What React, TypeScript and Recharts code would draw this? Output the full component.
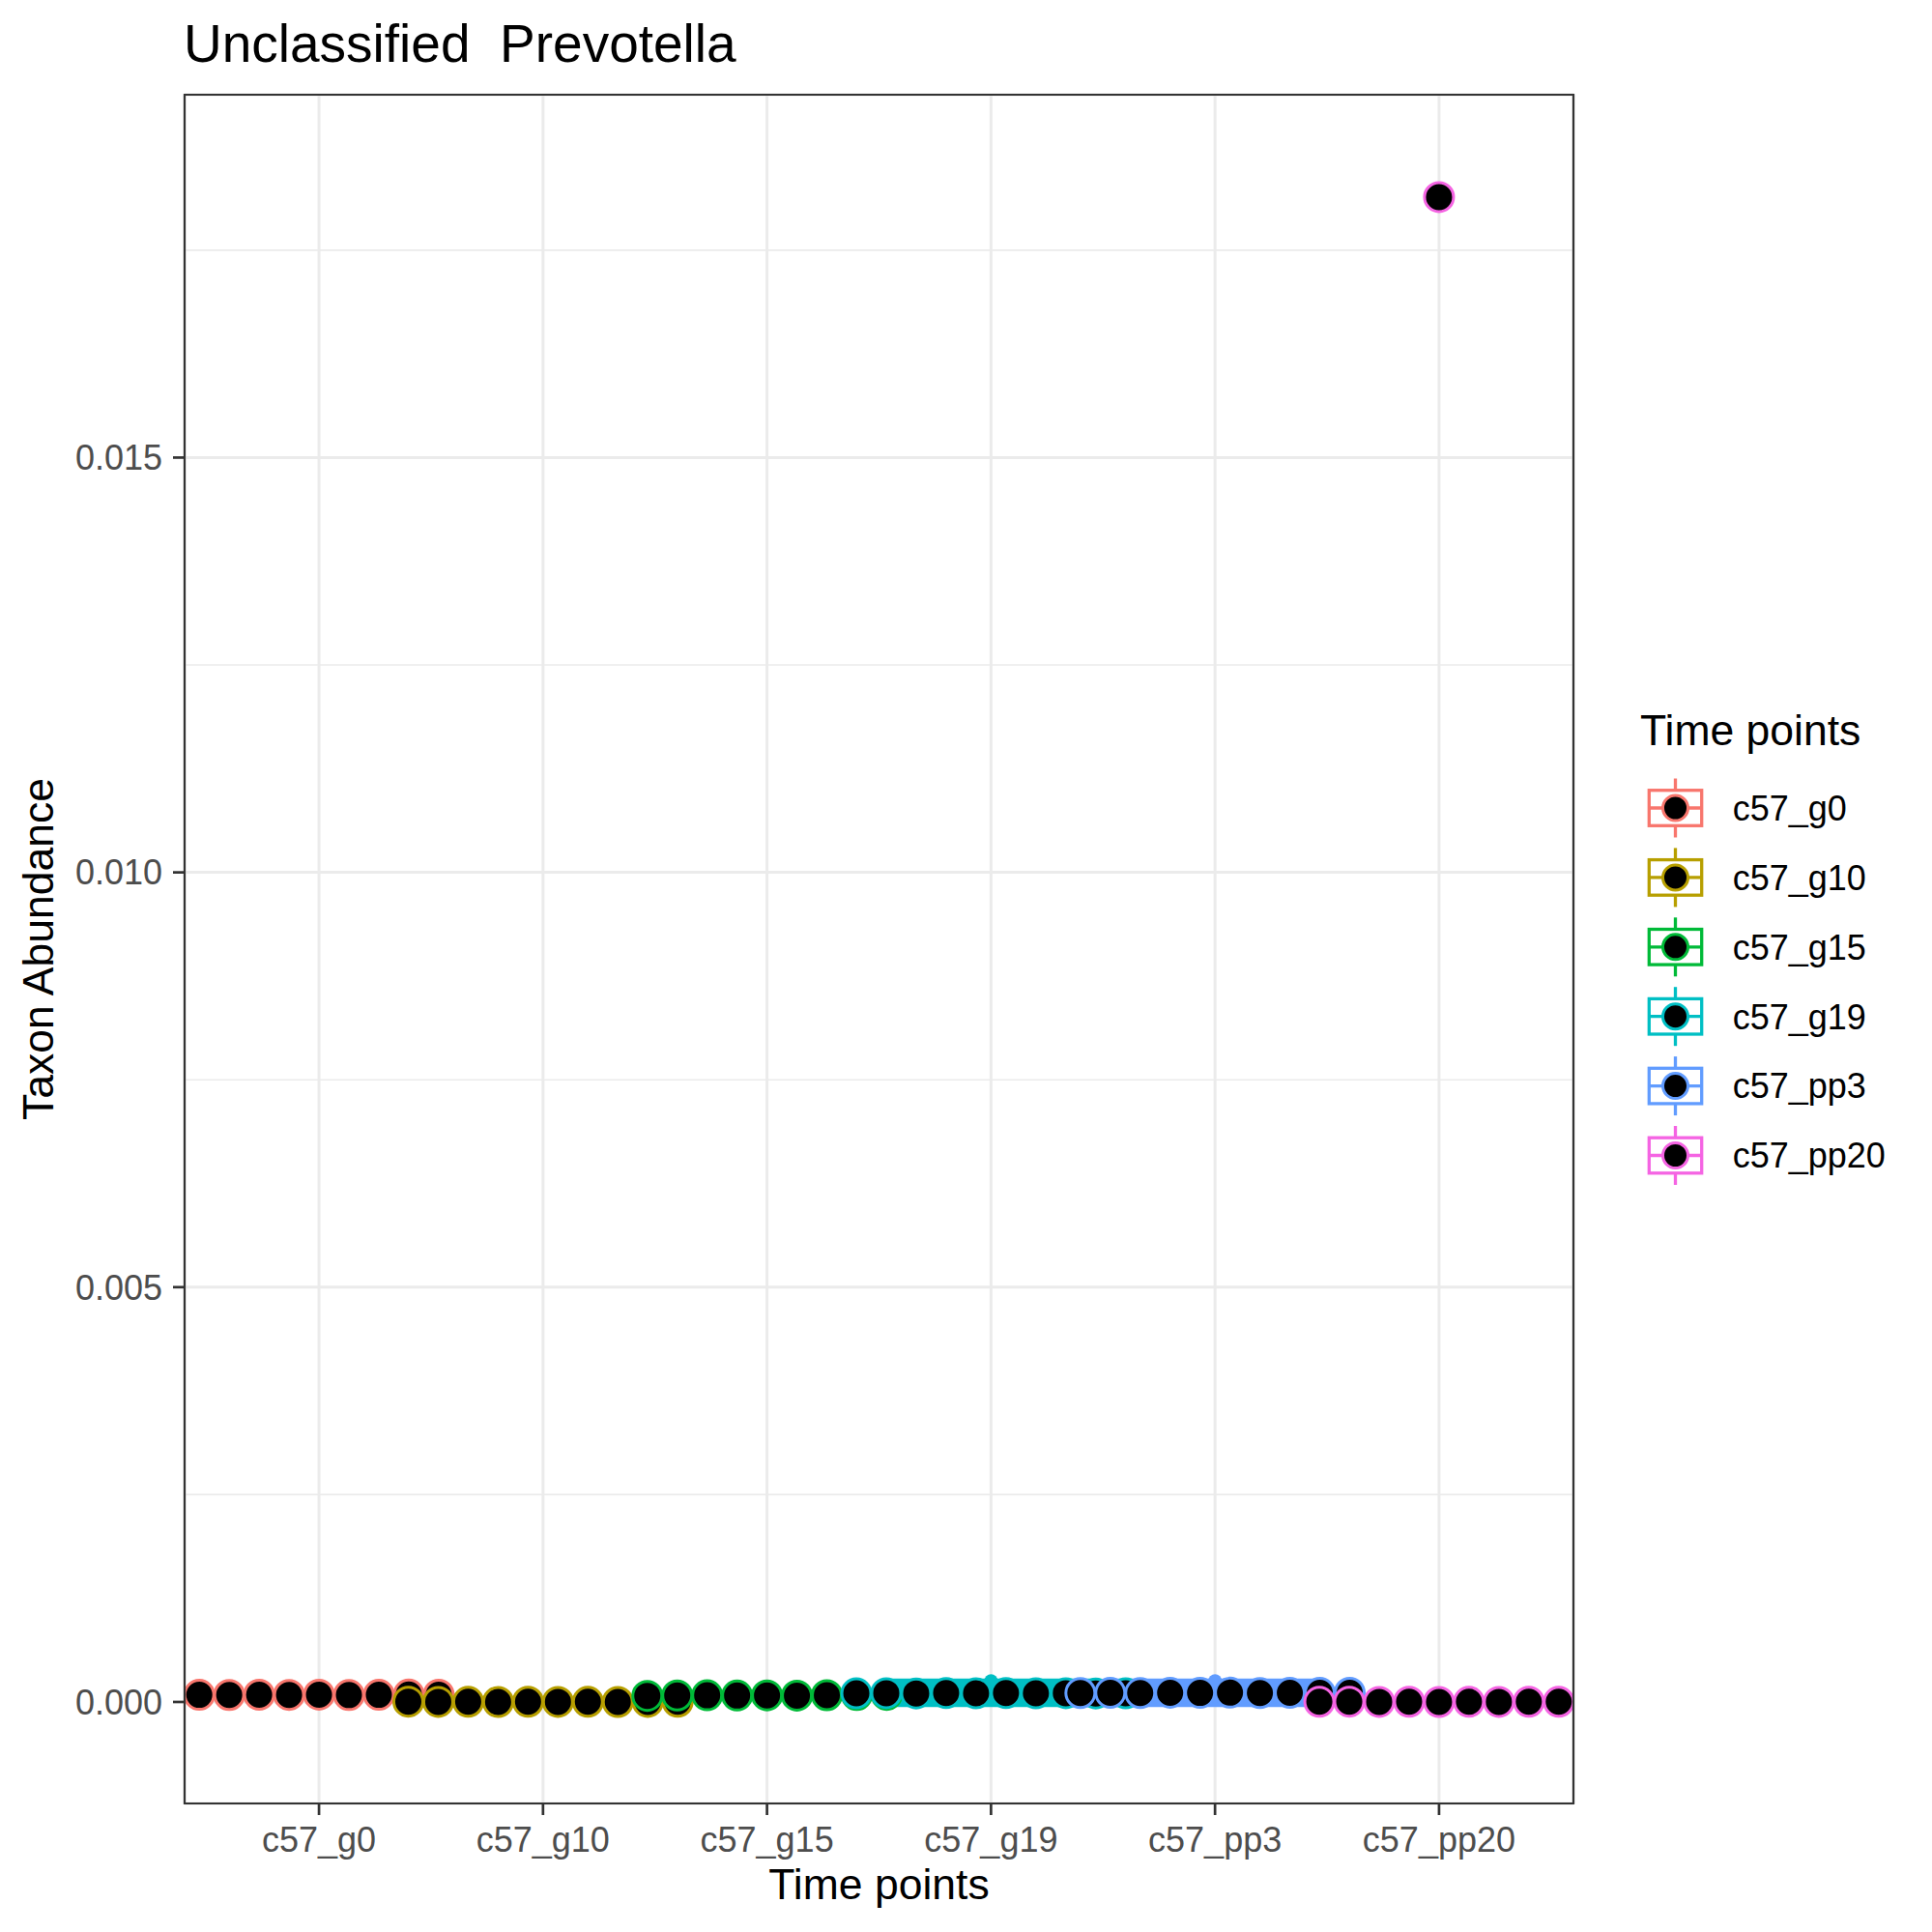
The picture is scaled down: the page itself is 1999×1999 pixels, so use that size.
import {
  ScatterChart,
  Scatter,
  XAxis,
  YAxis,
  CartesianGrid,
  ReferenceArea,
  ReferenceLine,
} from "recharts";

const timePoints = ["c57_g0", "c57_g10", "c57_g15", "c57_g19", "c57_pp3", "c57_pp20"];
const palette = ["#F8766D", "#B79F00", "#00BA38", "#00BFC4", "#619CFF", "#F564E3"];

// per-sample abundance
const g0Values = [0.000086, 0.000084, 0.000087, 0.000085, 0.000088, 0.000083, 0.000086, 0.000089, 0.000087];
const g10Values = [0.000004, 0.000001, 0.000002, 0.0, 0.000003, 0.000001, 0.000002, 0.0, 0.000001, 0.000003];
const g15Values = [0.000074, 0.000078, 0.00008, 0.000077, 0.000079, 0.000076, 0.000081, 0.000083, 0.000085];
const g19Values = [0.000104, 0.000106, 0.000103, 0.000107, 0.000105, 0.000108, 0.000104, 0.000106, 0.000103, 0.000105];
const pp3Values = [0.000108, 0.00011, 0.000107, 0.000111, 0.000109, 0.000112, 0.000108, 0.00011, 0.000109, 0.000111];
const pp20Values = [0.000002, 0.000004, 0.000001, 0.000003, 0.0, 0.000002, 0.000001, 0.000003, 0.000002];
const pp20Outlier = [0.01814];

// boxplot hinges per time point
const boxLower = [0.000084, 0.000001, 0.000077, -0.00005, -0.00005, 0.000001];
const boxUpper = [0.000087, 0.000003, 0.000081, 0.00027, 0.00027, 0.000003];
const boxOutlierGroups = [3, 4];
const boxOutlierValues = [0.000253, 0.000253];

const yTicks = [0, 0.005, 0.01, 0.015];
const yMinor = [0.0025, 0.0075, 0.0125, 0.0175];
const Y_DOMAIN: [number, number] = [-0.0012235, 0.019374];
const X_DOMAIN: [number, number] = [0.4, 6.6];

const groupValues = [g0Values, g10Values, g15Values, g19Values, pp3Values, pp20Values];
const STEP = 0.1336; // horizontal spacing of samples within a time point
const BOX_HALF = 0.45;

const series = groupValues.map((vals, g) =>
  vals.map((v, i) => ({ x: g + 1 + (i - (vals.length - 1) / 2) * STEP, y: v }))
);
const outlierData = pp20Outlier.map((v) => ({ x: 6, y: v }));
const smallOutliers = boxOutlierGroups.map((g, i) => ({ x: g + 1, y: boxOutlierValues[i], g }));

const FONT = "'Liberation Sans', Arial, Helvetica, sans-serif";

const dot = (color: string) => (p: any) =>
  <circle cx={p.cx} cy={p.cy} r={15} fill="#000000" stroke={color} strokeWidth={3} />;

function LegendKeys() {
  return (
    <g>
      <text x={1697} y={771} fontSize={44.5} fill="#000">Time points</text>
      {timePoints.map((name, i) => {
        const c = palette[i];
        const cy = 836 + i * 71.9;
        const cx = 1733.5;
        const sw = 3.3;
        return (
          <g key={name}>
            <line x1={cx} x2={cx} y1={cy - 30.5} y2={cy - 18.3} stroke={c} strokeWidth={sw} />
            <line x1={cx} x2={cx} y1={cy + 18.3} y2={cy + 30.5} stroke={c} strokeWidth={sw} />
            <rect x={1706.3} y={cy - 18.3} width={54.4} height={36.6} fill="#fff" stroke={c} strokeWidth={sw} />
            <line x1={1706.3} x2={1760.7} y1={cy} y2={cy} stroke={c} strokeWidth={sw} />
            <circle cx={cx} cy={cy} r={13} fill="#000" stroke={c} strokeWidth={3} />
            <text x={1792.7} y={cy + 12.8} fontSize={36} fill="#000">{name}</text>
          </g>
        );
      })}
    </g>
  );
}

export default function App() {
  return (
    <div style={{ position: "relative", width: 1999, height: 1999, background: "#fff", fontFamily: FONT }}>
      <style>{"body{margin:0}"}</style>
      <ScatterChart width={1999} height={1999} margin={{ top: 98, right: 371, bottom: 0, left: 0 }}>
        <CartesianGrid stroke="#EBEBEB" strokeWidth={3} />
        {yMinor.map((v) => (
          <ReferenceLine key={v} y={v} stroke="#EBEBEB" strokeWidth={1.6} />
        ))}
        <XAxis
          type="number"
          dataKey="x"
          domain={X_DOMAIN}
          ticks={[1, 2, 3, 4, 5, 6]}
          tickFormatter={(v: number) => timePoints[v - 1]}
          allowDataOverflow
          height={133}
          axisLine={false}
          tickSize={12}
          tickMargin={12}
          tickLine={{ stroke: "#333333", strokeWidth: 2.7 }}
          tick={{ fill: "#4D4D4D", fontSize: 36, fontFamily: FONT }}
          interval={0}
        />
        <YAxis
          type="number"
          dataKey="y"
          domain={Y_DOMAIN}
          ticks={yTicks}
          tickFormatter={(v: number) => v.toFixed(3)}
          allowDataOverflow
          width={191}
          axisLine={false}
          tickSize={12}
          tickMargin={11}
          tickLine={{ stroke: "#333333", strokeWidth: 2.7 }}
          tick={{ fill: "#4D4D4D", fontSize: 36, fontFamily: FONT }}
          interval={0}
        />
        {timePoints.map((t, g) => (
          <ReferenceArea
            key={t}
            x1={g + 1 - BOX_HALF}
            x2={g + 1 + BOX_HALF}
            y1={boxLower[g]}
            y2={boxUpper[g]}
            fill={palette[g]}
            fillOpacity={1}
            stroke={palette[g]}
            strokeWidth={2}
          />
        ))}
        <Scatter
          data={smallOutliers}
          isAnimationActive={false}
          shape={(p: any) => <circle cx={p.cx} cy={p.cy} r={7} fill={palette[p.payload.g]} />}
        />
        {series.map((data, g) => (
          <Scatter key={timePoints[g]} name={timePoints[g]} data={data} isAnimationActive={false} shape={dot(palette[g])} />
        ))}
        <Scatter data={outlierData} isAnimationActive={false} shape={dot(palette[5])} />
        <ReferenceArea
          x1={X_DOMAIN[0]}
          x2={X_DOMAIN[1]}
          y1={Y_DOMAIN[0]}
          y2={Y_DOMAIN[1]}
          fill="none"
          stroke="#333333"
          strokeWidth={2.2}
          zIndex={700}
        />
      </ScatterChart>
      <svg
        width={1999}
        height={1999}
        style={{ position: "absolute", left: 0, top: 0, pointerEvents: "none", fontFamily: FONT }}
      >
        <text x={190} y={64} fontSize={55} fill="#000" style={{ whiteSpace: "pre" }}>
          {"Unclassified  Prevotella"}
        </text>
        <text x={909.5} y={1965} fontSize={44.5} fill="#000" textAnchor="middle">Time points</text>
        <text
          x={55}
          y={982}
          fontSize={44.5}
          fill="#000"
          textAnchor="middle"
          transform="rotate(-90 55 982)"
        >
          Taxon Abundance
        </text>
        <LegendKeys />
      </svg>
    </div>
  );
}
